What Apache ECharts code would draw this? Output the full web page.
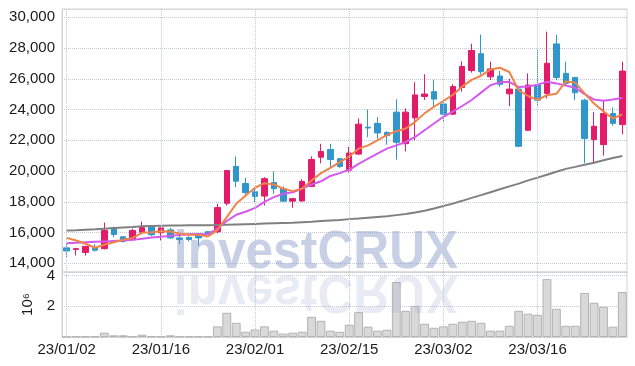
<!DOCTYPE html>
<html>
<head>
<meta charset="utf-8">
<script src="https://cdn.jsdelivr.net/npm/echarts@6/dist/echarts.min.js"></script>
<style>
html,body{margin:0;padding:0;background:#fff;}
#chart{width:635px;height:366px;}
</style>
</head>
<body>
<div id="chart"></div>
<script>
const categories = [
'23/01/02','23/01/03','23/01/04','23/01/05','23/01/06','23/01/09','23/01/10','23/01/11','23/01/12','23/01/13',
'23/01/16','23/01/17','23/01/18','23/01/19','23/01/20','23/01/25','23/01/26','23/01/27','23/01/30','23/01/31',
'23/02/01','23/02/02','23/02/03','23/02/06','23/02/07','23/02/08','23/02/09','23/02/10','23/02/13','23/02/14',
'23/02/15','23/02/16','23/02/17','23/02/20','23/02/21','23/02/22','23/02/23','23/02/24','23/02/27','23/02/28',
'23/03/02','23/03/03','23/03/06','23/03/07','23/03/08','23/03/09','23/03/10','23/03/13','23/03/14','23/03/15',
'23/03/16','23/03/17','23/03/20','23/03/21','23/03/22','23/03/23','23/03/24','23/03/27','23/03/28','23/03/29'];

const openVals = [15000,14900,14700,15000,14950,16300,15720,15530,16020,16390,
15980,16170,15650,15680,15800,16050,16050,17900,20300,19190,
18650,18370,19250,18850,18040,18050,19000,20900,21400,20800,
20050,21100,22850,23100,22500,23830,21780,23460,24850,25160,
24360,23700,25430,26530,27630,26130,26180,25020,25330,22650,
25590,25050,28270,26350,26090,24610,22050,21720,23740,23020];
const closeVals = [14800,14950,15100,14850,16130,15870,15420,16130,16320,15850,
16300,15650,15550,15540,15650,15880,17620,20030,19340,18600,
18350,19500,18850,18040,18200,19320,20750,21270,20750,20300,
21170,23050,22800,22480,22300,21870,23830,24950,25010,24680,
23700,25490,26800,27840,26460,26640,25640,25330,21610,25590,
24610,27010,26090,25700,25090,22110,22910,23740,23100,26500];
const lowVals = [14400,14500,14500,14760,14900,15700,15350,15500,16000,15780,
15480,15590,15250,15430,15150,15850,15950,17750,18950,18450,
17980,17760,18520,18000,17610,18000,18950,20500,20200,20200,
19900,21050,22200,22100,21720,20740,21280,22000,24620,24180,
23190,23650,25160,26400,26270,25920,25480,24220,21560,22600,
24290,24720,25920,25590,24610,20520,20480,21000,22950,22390];
const highVals = [15300,15000,15100,15240,16650,16370,15750,16250,16700,16470,
16320,16300,15800,15750,15850,16080,17870,20050,20950,19560,
18950,19600,19970,19000,18260,19470,20950,21770,21770,20800,
21560,23420,24000,23500,22600,24670,24080,25780,26300,25930,
24620,25650,27130,28280,28880,27110,26520,26000,25350,26350,
27880,29070,28860,27110,26090,24700,23850,24570,24130,27110];

const ma5 = [15650,15480,15265,15005,15200,15370,15525,15650,15980,16020,
16085,16065,15915,15850,15850,15740,16150,17000,17870,18410,
18910,19210,19125,18845,18690,18845,19385,19860,20210,20575,
20945,21455,21670,22000,22330,22590,22765,23200,23750,24180,
24555,24950,25490,25930,26200,26600,26720,26440,25240,24880,
24630,24935,25020,25830,25750,25050,24395,23880,23415,23685];
const ma20 = [15300,15330,15360,15390,15420,15450,15480,15520,15600,15670,
15730,15780,15830,15880,15900,15880,16250,16750,17150,17350,
17600,17990,18300,18520,18620,18860,19120,19330,19680,19860,
20080,20470,20800,21130,21455,21670,21890,22215,22655,23090,
23530,23860,24230,24620,25100,25580,25780,25800,25460,25500,
25620,25800,25700,25560,25420,25000,24650,24570,24650,24750];
const ma60 = [16130,16150,16180,16210,16250,16290,16330,16360,16400,16420,
16440,16450,16460,16465,16470,16475,16480,16500,16520,16540,
16560,16580,16600,16620,16640,16670,16700,16740,16780,16820,
16870,16910,16960,17010,17060,17130,17200,17300,17420,17560,
17720,17880,18060,18250,18430,18620,18810,19000,19180,19390,
19570,19760,19950,20140,20270,20410,20540,20700,20850,20970];

// volume in units of 10^6 shares
const volumes = [0.03,0.03,0.03,0.04,0.28,0.11,0.11,0.04,0.15,0.04,
0.04,0.11,0.04,0.04,0.04,0.04,0.69,1.57,0.92,0.34,
0.49,0.69,0.41,0.22,0.28,0.34,1.31,1.05,0.41,0.34,
0.80,1.61,0.67,0.41,0.47,3.57,1.70,2.02,0.86,0.60,
0.69,0.86,0.99,1.05,0.92,0.41,0.41,0.73,1.70,1.51,
1.44,3.76,1.83,0.73,0.73,2.86,2.22,1.96,0.67,2.92];

const gridDates = ['23/01/02','23/01/16','23/02/01','23/02/15','23/03/02','23/03/16'];

const candleData = categories.map((d, i) => [openVals[i], closeVals[i], lowVals[i], highVals[i]]);

const FONT = '"Liberation Sans Narrow", "Liberation Sans", sans-serif';
const UP = '#e31c69';
const DOWN = '#3196c9';
const gridLine = {type: 'dotted', color: '#c3c7d6', width: 1};

const chart = echarts.init(document.getElementById('chart'), null, {renderer: 'canvas'});
const vLines = (xi) => ({
  type: 'line', xAxisIndex: xi, yAxisIndex: xi, data: [], z: 1, silent: true,
  markLine: {
    silent: true, symbol: ['none', 'none'], label: {show: false},
    lineStyle: gridLine, animation: false,
    data: gridDates.map(d => ({xAxis: d}))
  }
});

chart.setOption({
  animation: false,
  backgroundColor: '#ffffff',
  grid: [
    {left: 62, right: 8, top: 9, height: 263, show: true, borderColor: '#d3d3d3', borderWidth: 1},
    {left: 62, right: 8, top: 272, height: 65, show: true, borderColor: '#d3d3d3', borderWidth: 1}
  ],
  xAxis: [
    {type: 'category', gridIndex: 0, data: categories, boundaryGap: true,
     axisLabel: {show: false}, axisTick: {show: false}, axisLine: {show: false}, splitLine: {show: false}},
    {type: 'category', gridIndex: 1, data: categories, boundaryGap: true,
     axisLabel: {interval: 9, fontFamily: FONT, fontSize: 15, color: '#1a1a1a', margin: 5},
     axisTick: {show: false}, axisLine: {show: true, lineStyle: {color: '#d3d3d3'}}, splitLine: {show: false}}
  ],
  yAxis: [
    {type: 'value', gridIndex: 0, min: 13430, max: 30540, splitNumber: 8, scale: true,
     axisLine: {show: true, lineStyle: {color: '#d3d3d3'}}, axisTick: {show: false},
     axisLabel: {fontFamily: FONT, fontSize: 15, color: '#1a1a1a', margin: 7, showMinLabel: false, showMaxLabel: false,
       formatter: v => v.toLocaleString('en-US')},
     splitLine: {show: true, lineStyle: gridLine}},
    {type: 'value', gridIndex: 1, min: 0, max: 4.22, interval: 2,
     name: '10\u2076', nameLocation: 'middle', nameRotate: 90, nameGap: 24,
     nameTextStyle: {fontFamily: FONT, fontSize: 15, color: '#1a1a1a'},
     axisLine: {show: true, lineStyle: {color: '#d3d3d3'}}, axisTick: {show: false},
     axisLabel: {fontFamily: FONT, fontSize: 15, color: '#1a1a1a', margin: 7, showMinLabel: false, showMaxLabel: false},
     splitLine: {show: true, lineStyle: gridLine}}
  ],
  graphic: [
    {type: 'text', x: 316, y: 272, z: 1, scaleX: 0.92, silent: true,
     style: {text: 'investCRUX', x: 0, y: -19, align: 'center', verticalAlign: 'middle',
       font: 'bold 54px "Liberation Sans", sans-serif', fill: 'rgba(150,165,205,0.52)'}},
    {type: 'text', x: 316, y: 272, z: 100, scaleX: 0.92, scaleY: -1, silent: true,
     style: {text: 'investCRUX', x: 0, y: -19, align: 'center', verticalAlign: 'middle',
       font: 'bold 54px "Liberation Sans", sans-serif', fill: 'rgba(150,165,205,0.22)'}}
  ],
  series: [
    vLines(0),
    vLines(1),
    {type: 'candlestick', xAxisIndex: 0, yAxisIndex: 0, data: candleData, barWidth: 6, z: 3,
     itemStyle: {color: UP, color0: DOWN, borderColor: UP, borderColor0: DOWN, borderWidth: 1}},
    {type: 'line', xAxisIndex: 0, yAxisIndex: 0, data: ma60, showSymbol: false, smooth: false, z: 4,
     lineStyle: {color: '#808080', width: 2}},
    {type: 'line', xAxisIndex: 0, yAxisIndex: 0, data: ma20, showSymbol: false, smooth: false, z: 4,
     lineStyle: {color: '#d459ec', width: 2}},
    {type: 'line', xAxisIndex: 0, yAxisIndex: 0, data: ma5, showSymbol: false, smooth: false, z: 4,
     lineStyle: {color: '#f0834a', width: 2}},
    {type: 'bar', xAxisIndex: 1, yAxisIndex: 1, data: volumes, barCategoryGap: '6%', z: 2,
     itemStyle: {color: '#d9d9d9', borderColor: '#b3b3b3', borderWidth: 1}}
  ]
});
</script>
</body>
</html>
